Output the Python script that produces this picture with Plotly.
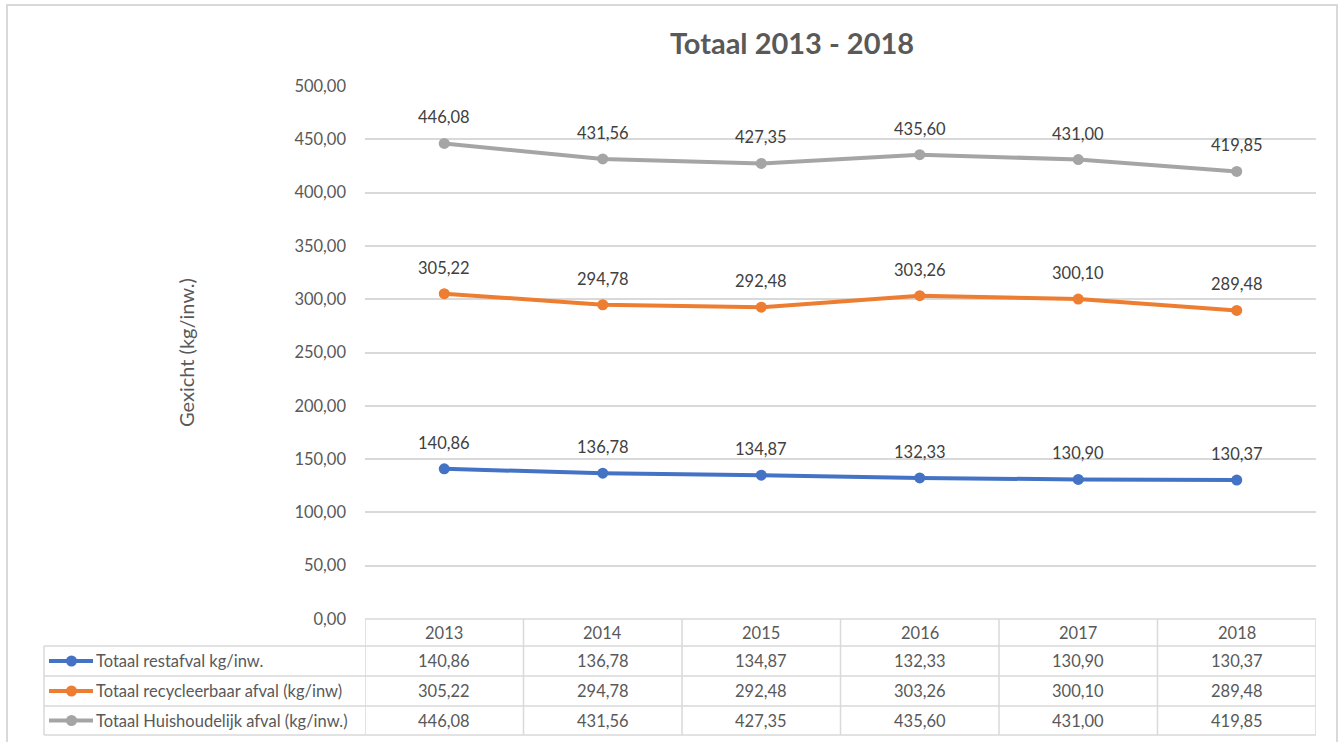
import plotly.graph_objects as go

years = ["2013", "2014", "2015", "2016", "2017", "2018"]
restafval = [140.86, 136.78, 134.87, 132.33, 130.90, 130.37]
recycleerbaar = [305.22, 294.78, 292.48, 303.26, 300.10, 289.48]
huishoudelijk = [446.08, 431.56, 427.35, 435.60, 431.00, 419.85]
series_names = ["Totaal restafval kg/inw.",
                "Totaal recycleerbaar afval (kg/inw)",
                "Totaal Huishoudelijk afval (kg/inw.)"]
series_values = [restafval, recycleerbaar, huishoudelijk]
colors = ["#4472C4", "#ED7D31", "#A5A5A5"]

W, H = 1344, 742
L, R, T, B = 365, 1316, 86, 619  # plot area in pixels

def px_y(p):
    return (B - p) / (B - T)

def px_x(p):
    return (p - L) / (R - L)

def fmt(v):
    return f"{v:.2f}".replace(".", ",")

FONT = "Lato"
GRID = "#D9D9D9"
TXT = "#595959"
FS = 16.5

fig = go.Figure()
xs = list(range(len(years)))
for name, vals, col in zip(series_names, series_values, colors):
    fig.add_trace(go.Scatter(x=xs, y=vals, mode="lines+markers", name=name,
                             line=dict(color=col, width=4),
                             marker=dict(color=col, size=11),
                             showlegend=False, hoverinfo="y"))

annotations = []
shapes = []
for vals in series_values:
    for i, v in enumerate(vals):
        annotations.append(dict(x=i, y=v, xref="x", yref="y", text=fmt(v),
                                showarrow=False, yshift=26,
                                font=dict(family=FONT, size=FS, color="#404040")))

row_edges_px = [619, 646, 676, 706, 735]
legend_left_px = 44
for p in row_edges_px:
    x0 = px_x(legend_left_px) if p != row_edges_px[0] else 0
    shapes.append(dict(type="line", xref="paper", yref="paper",
                       x0=x0, x1=1, y0=px_y(p), y1=px_y(p),
                       line=dict(color=GRID, width=1.5)))
for i in range(len(years) + 1):
    shapes.append(dict(type="line", xref="x", yref="paper",
                       x0=i - 0.5, x1=i - 0.5,
                       y0=px_y(row_edges_px[0]), y1=px_y(row_edges_px[-1]),
                       line=dict(color=GRID, width=1.5)))
shapes.append(dict(type="line", xref="paper", yref="paper",
                   x0=px_x(legend_left_px), x1=px_x(legend_left_px),
                   y0=px_y(row_edges_px[1]), y1=px_y(row_edges_px[-1]),
                   line=dict(color=GRID, width=1.5)))

hdr_c = (row_edges_px[0] + row_edges_px[1]) / 2
for i, yr in enumerate(years):
    annotations.append(dict(x=i, y=px_y(hdr_c), xref="x", yref="paper", text=yr,
                            showarrow=False, yanchor="middle",
                            font=dict(family=FONT, size=FS, color=TXT)))
for r, (name, vals, col) in enumerate(zip(series_names, series_values, colors)):
    c = (row_edges_px[r + 1] + row_edges_px[r + 2]) / 2
    for i, v in enumerate(vals):
        annotations.append(dict(x=i, y=px_y(c), xref="x", yref="paper", text=fmt(v),
                                showarrow=False, yanchor="middle",
                                font=dict(family=FONT, size=FS, color=TXT)))
    shapes.append(dict(type="line", xref="paper", yref="paper",
                       x0=px_x(49), x1=px_x(93), y0=px_y(c), y1=px_y(c),
                       line=dict(color=col, width=4)))
    shapes.append(dict(type="circle", xref="paper", yref="paper",
                       x0=px_x(66), x1=px_x(77), y0=px_y(c - 5.5), y1=px_y(c + 5.5),
                       fillcolor=col, line=dict(color=col, width=0)))
    annotations.append(dict(x=px_x(94), y=px_y(c), xref="paper", yref="paper",
                            text=name, showarrow=False, xanchor="left", yanchor="middle",
                            font=dict(family=FONT, size=FS, color=TXT)))

shapes.append(dict(type="rect", xref="paper", yref="paper", layer="below",
                   x0=px_x(7), x1=px_x(1337), y0=px_y(748), y1=px_y(5),
                   line=dict(color="#D9D9D9", width=2), fillcolor="rgba(0,0,0,0)"))

annotations.append(dict(x=px_x(186), y=px_y(353), xref="paper", yref="paper",
                        text="Gexicht (kg/inw.)", textangle=-90, showarrow=False,
                        xanchor="center", yanchor="middle",
                        font=dict(family=FONT, size=20, color=TXT)))

fig.update_layout(
    width=W, height=H,
    margin=dict(l=L, r=W - R, t=T, b=H - B, pad=0),
    paper_bgcolor="white", plot_bgcolor="white",
    separators=", ",
    title=dict(text="<b>Totaal 2013 - 2018</b>", x=792 / W,
               xanchor="center", y=1 - 44 / H, yanchor="middle",
               font=dict(family=FONT, size=29, color=TXT)),
    xaxis=dict(range=[-0.5, len(years) - 0.5], showticklabels=False, showgrid=False,
               zeroline=False, showline=False, ticks=""),
    yaxis=dict(range=[0, 500], dtick=50, tickformat=".2f", showgrid=True,
               gridcolor=GRID, gridwidth=1.5, zeroline=False, showline=False,
               ticks="", ticklabelstandoff=18,
               tickfont=dict(family=FONT, size=FS, color=TXT)),
    annotations=annotations, shapes=shapes,
)

fig.write_html("out.html", config={"displayModeBar": False},
               post_script="document.body.style.margin='0';")
